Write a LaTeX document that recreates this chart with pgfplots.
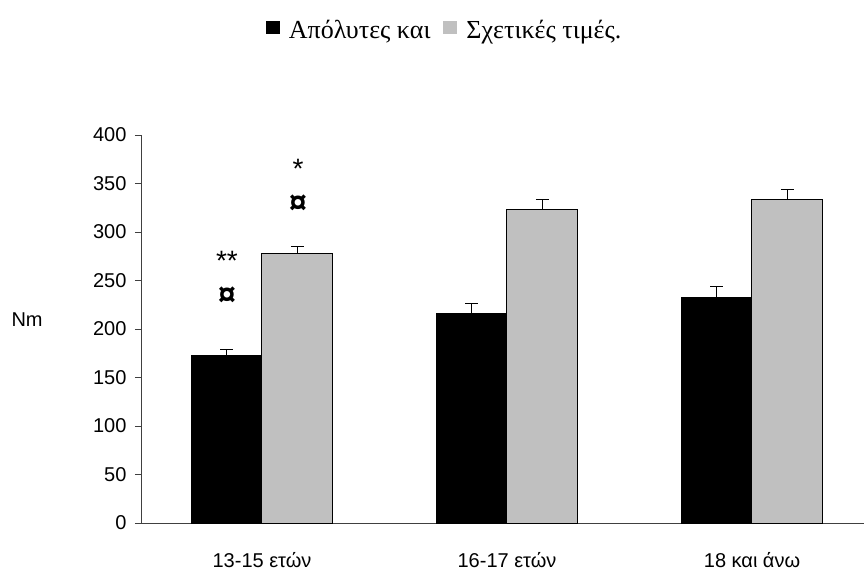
\documentclass[border=0pt]{standalone}
\usepackage{fontspec}
\setmainfont{Liberation Sans}
\newfontfamily\serifgr{Liberation Serif}
\usepackage{pgfplots}
\pgfplotsset{compat=1.18}
\definecolor{barGray}{RGB}{192,192,192}
\begin{document}
\begin{tikzpicture}[x=1pt,y=1pt]
\useasboundingbox (-141,-51) rectangle (723,523);
\begin{axis}[
  at={(0,0)}, anchor=south west,
  scale only axis, width=723pt, height=388pt,
  xmin=-0.494, xmax=2.457, ymin=0, ymax=400,
  axis lines=left, axis line style={-, black!75, line width=0.8pt},
  ytick={0,50,...,400},
  xtick={0,1,2},
  xticklabels={13-15 ετών,16-17 ετών,18 και άνω},
  major tick length=6pt,
  tick align=outside,
  x tick style={draw=none},
  y tick style={black!75, line width=0.8pt},
  yticklabel style={font=\fontsize{20}{24}\selectfont, xshift=-5pt},
  xticklabel style={font=\fontsize{20}{24}\selectfont, yshift=-20pt},
  /pgf/number format/assume math mode=true,
  ybar,
  bar width=0.29,
  clip=false,
  legend columns=2,
  legend style={at={(0.42,1.27)}, anchor=center, draw=none, fill=none,
    font=\serifgr\fontsize{26}{30}\selectfont,
    /tikz/every odd column/.append style={column sep=7pt},
    /tikz/every even column/.append style={column sep=11pt}},
  legend image code/.code={\draw[#1, draw=none] (0pt,-4pt) rectangle (14pt,9pt);},
  error bars/y dir=plus,
  error bars/y explicit,
  error bars/error bar style={black, line width=1pt},
  error bars/error mark options={rotate=90, mark size=6.5pt, black, line width=1pt},
]
\addplot[fill=black, draw=black, line width=1pt, bar shift=-0.144]
  coordinates {(0,173) +- (0,6) (1,216) +- (0,10) (2,232) +- (0,12)};
\addlegendentry{Απόλυτες και}
\addplot[fill=barGray, draw=black, line width=1pt, bar shift=0.144]
  coordinates {(0,278) +- (0,7) (1,323) +- (0,11) (2,334) +- (0,10)};
\addlegendentry{Σχετικές τιμές.}
\node[font=\fontsize{28}{32}\selectfont] at (axis cs:-0.143,270) {**};
\node[font=\bfseries\fontsize{32}{36}\selectfont] at (axis cs:-0.143,234) {¤};
\node[font=\fontsize{28}{32}\selectfont] at (axis cs:0.147,365) {*};
\node[font=\bfseries\fontsize{32}{36}\selectfont] at (axis cs:0.147,329) {¤};
\node[font=\fontsize{20}{24}\selectfont] at (axis cs:-0.959,210) {Nm};
\end{axis}
\end{tikzpicture}
\end{document}
